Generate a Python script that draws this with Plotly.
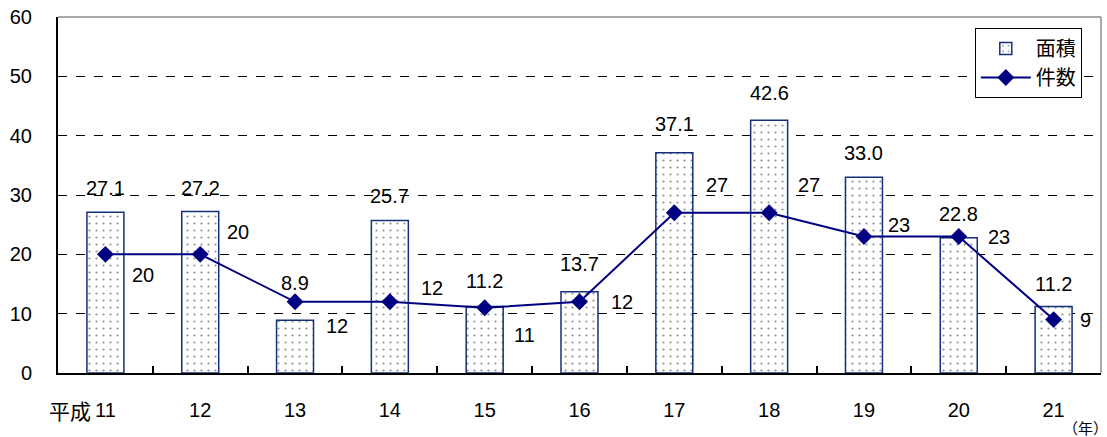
import plotly.graph_objects as go

# 平成11〜21年の面積と件数
years = ["11", "12", "13", "14", "15", "16", "17", "18", "19", "20", "21"]
area = [27.1, 27.2, 8.9, 25.7, 11.2, 13.7, 37.1, 42.6, 33.0, 22.8, 11.2]
count = [20, 20, 12, 12, 11, 12, 27, 27, 23, 23, 9]
y_ticks = [0, 10, 20, 30, 40, 50, 60]

NUM_FONT = "Liberation Sans, Arial, Noto Sans CJK JP, sans-serif"
JP_FONT = "Noto Sans CJK JP, sans-serif"
NAVY = "#000080"
BAR_EDGE = "#14307a"

# label placement offsets in pixels
area_label_up = [24, 24, 37, 25, 26, 28, 29, 27, 24, 24, 23]
count_label_dx = [38, 38, 42, 42, 40, 42, 43, 40, 35, 40, 32]
count_label_dy = [-21, 22, -24, 14, -27, 0, 28, 28, 12, 0, 0]

fig = go.Figure()

fig.add_trace(go.Bar(
    x=years, y=area, name="面積", width=0.39,
    marker=dict(
        color="white",
        line=dict(color=BAR_EDGE, width=1.5),
        pattern=dict(shape=".", fgcolor="#222222", bgcolor="white",
                     size=7, solidity=0.08),
    ),
))

fig.add_trace(go.Scatter(
    x=years, y=count, name="件数", mode="lines+markers",
    line=dict(color=NAVY, width=2),
    marker=dict(symbol="diamond", size=13, color=NAVY),
))

# category axis positions are addressed by index
annotations = []
for i, a in enumerate(area):
    annotations.append(dict(
        x=i, y=a, xref="x", yref="y", text=f"{a:.1f}", showarrow=False,
        yshift=area_label_up[i], xanchor="center", yanchor="middle",
        font=dict(family=NUM_FONT, size=20, color="black"),
    ))
for i, c in enumerate(count):
    annotations.append(dict(
        x=i, y=c, xref="x", yref="y", text=str(c), showarrow=False,
        xshift=count_label_dx[i], yshift=count_label_dy[i],
        xanchor="center", yanchor="middle",
        font=dict(family=NUM_FONT, size=20, color="black"),
    ))

annotations.append(dict(
    x=0, y=-0.104, xref="x", yref="paper", text="平成", showarrow=False,
    xanchor="right", yanchor="middle", xshift=-12,
    font=dict(family=JP_FONT, size=21, color="black"),
))
annotations.append(dict(
    x=0.985, y=-0.152, xref="paper", yref="paper", text="（年）", showarrow=False,
    xanchor="center", yanchor="middle",
    font=dict(family=JP_FONT, size=15, color="black"),
))

shapes = [
    dict(type="line", xref="paper", yref="paper", x0=0, x1=1, y0=1, y1=1,
         line=dict(color="#8c8c8c", width=1.5), layer="above"),
    dict(type="line", xref="paper", yref="paper", x0=1, x1=1, y0=0, y1=1,
         line=dict(color="#8c8c8c", width=1.5), layer="above"),
]

fig.update_layout(
    width=1107, height=437,
    margin=dict(l=58, r=6, t=17, b=64),
    plot_bgcolor="white", paper_bgcolor="white",
    showlegend=True,
    legend=dict(
        x=0.879, y=0.969, xanchor="left", yanchor="top",
        bgcolor="white", bordercolor="black", borderwidth=1,
        font=dict(family=JP_FONT, size=20, color="black"),
        itemwidth=50, tracegroupgap=2,
    ),
    annotations=annotations,
    shapes=shapes,
    bargap=0.61,
)

fig.update_xaxes(
    type="category", range=[-0.5, 10.5],
    showline=True, linecolor="black", linewidth=2,
    ticks="inside", ticklen=7, tickcolor="black", tickwidth=1.5,
    tickson="boundaries", ticklabelstandoff=18,
    tickfont=dict(family=NUM_FONT, size=20, color="black"),
    showgrid=False,
)

fig.update_yaxes(
    range=[0, 60], tickvals=y_ticks,
    showline=True, linecolor="black", linewidth=2,
    showgrid=True, gridcolor="black", griddash="dash", gridwidth=1,
    zeroline=False, ticks="", ticklabelstandoff=20,
    tickfont=dict(family=NUM_FONT, size=20, color="black"),
)

fig.write_html("out.html")
